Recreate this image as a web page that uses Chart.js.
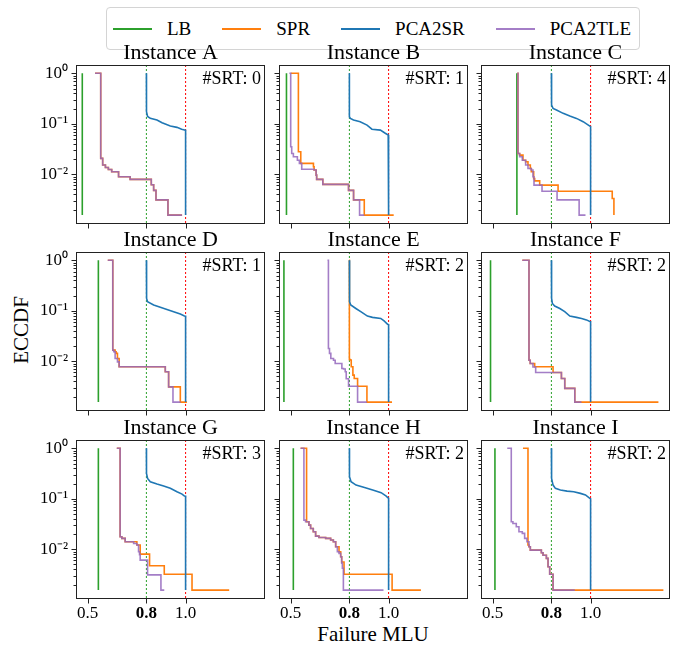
<!DOCTYPE html>
<html>
<head>
<meta charset="utf-8">
<script src="https://cdn.jsdelivr.net/npm/chart.js@4.4.1/dist/chart.umd.min.js"></script>
<style>
  body { margin: 0; background: #fff; font-family: "Liberation Serif", "Times New Roman", serif; }
  #wrap { position: relative; width: 673px; height: 645px; color: #000; }
  #wrap canvas { position: absolute; }
  #legend { position: absolute; left: 106px; top: 7px; width: 534px; height: 43px; box-sizing: border-box;
            border: 1px solid #d4d4d4; border-radius: 4px; background: #fff; display: flex; align-items: center;
            padding-left: 6px; font: 19px "Liberation Serif", "Times New Roman", serif; }
  #legend .item { display: flex; align-items: center; margin-right: 31px; }
  #legend .line { width: 39px; height: 2px; margin-right: 15px; }
  #ylab { position: absolute; left: 21px; top: 330px; font: 21px "Liberation Serif", "Times New Roman", serif;
          transform: translate(-50%, -50%) rotate(-90deg); white-space: nowrap; }
  #xlab { position: absolute; left: 373px; top: 624px; font: 21px/21px "Liberation Serif", "Times New Roman", serif;
          transform: translateX(-50%); white-space: nowrap; }
</style>
</head>
<body>
<div id="wrap">
  <div id="legend"></div>
  <div id="ylab">ECCDF</div>
  <div id="xlab">Failure MLU</div>
</div>
<script>
// panel labels and annotations
const instances = ["A", "B", "C", "D", "E", "F", "G", "H", "I"];
const srtCounts = [0, 1, 4, 1, 2, 2, 3, 2, 2];

// axis ticks
const xTicks = [0.5, 0.8, 1.0];
const yMajorTicks = [1, 0.1, 0.01];
const yTickLabels = ["10⁰", "10⁻¹", "10⁻²"];
const yMinorTicks = [0.9, 0.8, 0.7, 0.6, 0.5, 0.4, 0.3, 0.2,
                     0.09, 0.08, 0.07, 0.06, 0.05, 0.04, 0.03, 0.02,
                     0.009, 0.008, 0.007, 0.006, 0.005, 0.004, 0.003, 0.002];
// vertical reference lines (MLU 0.8 and 1.0)
const refLines = [0.8, 1.0];

// LB: constant value per instance, ECCDF spans 1 .. 1/n
const lbX = [0.473, 0.479, 0.624, 0.555, 0.466, 0.4895, 0.555, 0.514, 0.512];
const lbRange = [1, 0.00155];

// SPR (step curves, [MLU, ECCDF])
const sprA = [[0.538,1],[0.567,0.0206],[0.577,0.0152],[0.591,0.0136],[0.606,0.0124],[0.623,0.0112],[0.658,0.0089],[0.717,0.0079],[0.825,0.0062],[0.837,0.0048],[0.849,0.0031],[0.91,0.00155],[0.982,0.00155]];
const sprB = [[0.5006,1],[0.5398,0.028],[0.552,0.0164],[0.6166,0.0141],[0.62,0.0121],[0.6302,0.0096],[0.633,0.0079],[0.6644,0.0063],[0.7957,0.0048],[0.8213,0.0031],[0.8759,0.00155],[1.026,0.00155]];
const sprC = [[0.626,1],[0.6294,0.0258],[0.638,0.0239],[0.655,0.019],[0.6686,0.0177],[0.6806,0.0152],[0.6925,0.013],[0.6976,0.0112],[0.7096,0.0082],[0.7147,0.0074],[0.7403,0.0061],[0.8341,0.0046],[1.1104,0.0033],[1.119,0.00155]];
const sprD = [[0.603,1],[0.6285,0.0166],[0.6405,0.0154],[0.6456,0.0143],[0.6524,0.0113],[0.661,0.0078],[0.8964,0.0062],[0.9134,0.0031],[0.9731,0.00155],[1.007,0.00155]];
const sprE = [[0.799,1],[0.8,0.0108],[0.8042,0.0106],[0.8094,0.0078],[0.8179,0.0053],[0.8247,0.00455],[0.8418,0.0032],[0.8895,0.00155],[1.0175,0.00155]];
const sprF = [[0.6516,1],[0.6857,0.0105],[0.692,0.009],[0.7147,0.0078],[0.8085,0.006],[0.8512,0.00455],[0.8682,0.0029],[0.9194,0.00155],[1.346,0.00155]];
const sprG = [[0.649,1],[0.666,0.0177],[0.6746,0.0164],[0.6917,0.0141],[0.7514,0.0121],[0.7684,0.008],[0.8162,0.0047],[0.8912,0.0032],[1.0328,0.00155],[1.2224,0.00155]];
const sprH = [[0.551,1],[0.5816,0.035],[0.5935,0.030],[0.6021,0.0258],[0.6158,0.0222],[0.6277,0.0182],[0.6447,0.0171],[0.6789,0.0164],[0.7044,0.0152],[0.7181,0.0141],[0.73,0.0112],[0.7471,0.0089],[0.7556,0.0071],[0.7607,0.0056],[0.7727,0.0032],[1.0179,0.00155],[1.165,0.00155]];
const sprI = [[0.655,1],[0.6806,0.0121],[0.6857,0.0112],[0.6925,0.0096],[0.7488,0.0085],[0.7573,0.0076],[0.7744,0.0066],[0.7829,0.0045],[0.7914,0.0032],[0.8085,0.00155],[1.3714,0.00155]];

// PCA2SR
const srA = [[0.8,1],[0.8,0.2],[0.801,0.173],[0.806,0.14],[0.82,0.128],[0.854,0.119],[0.88,0.105],[0.922,0.09],[0.956,0.085],[0.98,0.078],[0.995,0.075],[1.0,0.074],[1.0,0.00155]];
const srB = [[0.8,1],[0.8,0.138],[0.805,0.128],[0.821,0.119],[0.855,0.110],[0.89,0.094],[0.915,0.078],[0.958,0.075],[0.983,0.065],[0.998,0.06],[1.0,0.06],[1.0,0.00155]];
const srC = [[0.8,1],[0.8,0.3],[0.802,0.235],[0.8085,0.202],[0.826,0.187],[0.86,0.161],[0.894,0.142],[0.928,0.128],[0.962,0.11],[0.996,0.09],[1.0,0.088],[1.0,0.00155]];
const srD = [[0.8,1],[0.8,0.2],[0.802,0.176],[0.806,0.151],[0.837,0.13],[0.871,0.117],[0.905,0.106],[0.939,0.096],[0.973,0.086],[0.994,0.079],[1.0,0.078],[1.0,0.00155]];
const srE = [[0.8,1],[0.8,0.2],[0.802,0.151],[0.807,0.13],[0.833,0.111],[0.858,0.096],[0.892,0.0785],[0.918,0.074],[0.96,0.0705],[0.977,0.063],[0.995,0.054],[1.0,0.053],[1.0,0.00155]];
const srF = [[0.8,1],[0.8,0.2],[0.802,0.176],[0.805,0.14],[0.817,0.124],[0.843,0.111],[0.868,0.096],[0.894,0.0785],[0.928,0.074],[0.954,0.0705],[0.979,0.066],[0.996,0.0615],[1.0,0.061],[1.0,0.00155]];
const srG = [[0.8,1],[0.8,0.4],[0.801,0.318],[0.806,0.253],[0.82,0.218],[0.854,0.196],[0.888,0.179],[0.922,0.161],[0.956,0.138],[0.982,0.124],[0.994,0.113],[1.0,0.112],[1.0,0.00155]];
const srH = [[0.8,1],[0.8,0.35],[0.801,0.273],[0.8085,0.218],[0.834,0.187],[0.877,0.168],[0.919,0.149],[0.962,0.132],[0.988,0.113],[1.0,0.102],[1.0,0.00155]];
const srI = [[0.8,1],[0.8,0.3],[0.802,0.253],[0.8085,0.187],[0.8205,0.161],[0.846,0.149],[0.88,0.142],[0.914,0.138],[0.948,0.128],[0.974,0.119],[0.996,0.102],[1.0,0.1],[1.0,0.00155]];

// PCA2TLE
const tleA = [[0.538,1],[0.567,0.0206],[0.577,0.0152],[0.591,0.0136],[0.606,0.0124],[0.623,0.0112],[0.658,0.0089],[0.717,0.0079],[0.825,0.0062],[0.837,0.0048],[0.849,0.0031],[0.91,0.00155],[0.982,0.00155]];
const tleB = [[0.4938,1],[0.5006,0.035],[0.5057,0.0258],[0.5142,0.0222],[0.5347,0.019],[0.545,0.0164],[0.5569,0.0126],[0.62,0.0121],[0.6302,0.0096],[0.633,0.0079],[0.6644,0.0063],[0.7957,0.0048],[0.8213,0.0031],[0.852,0.00155],[0.876,0.00155]];
const tleC = [[0.626,1],[0.6294,0.0258],[0.638,0.0222],[0.6516,0.019],[0.6686,0.0152],[0.6806,0.013],[0.6976,0.0121],[0.7061,0.0089],[0.7113,0.0061],[0.7522,0.0046],[0.829,0.0031],[0.9415,0.00155],[0.974,0.00155]];
const tleD = [[0.603,1],[0.6285,0.0166],[0.6335,0.0154],[0.6405,0.0113],[0.6524,0.0097],[0.661,0.0078],[0.8964,0.0062],[0.9134,0.0031],[0.9356,0.00155],[0.975,0.00155]];
const tleE = [[0.688,1],[0.693,0.0179],[0.6985,0.0143],[0.7053,0.0113],[0.719,0.0105],[0.7275,0.009],[0.7616,0.0072],[0.7701,0.007],[0.7787,0.0062],[0.7838,0.0045],[0.7957,0.0032],[0.8418,0.00155],[0.8895,0.00155]];
const tleF = [[0.6516,1],[0.6857,0.0105],[0.692,0.009],[0.706,0.0077],[0.7198,0.006],[0.8512,0.00455],[0.8682,0.0029],[0.9194,0.00155],[0.9535,0.00155]];
const tleG = [[0.649,1],[0.666,0.0177],[0.6746,0.0164],[0.6917,0.0141],[0.7349,0.013],[0.7514,0.0121],[0.76,0.0089],[0.765,0.0078],[0.7684,0.0061],[0.806,0.0031],[0.8742,0.00155],[0.8912,0.00155]];
const tleH = [[0.551,1],[0.568,0.0378],[0.5765,0.035],[0.5935,0.030],[0.6021,0.0258],[0.6158,0.0222],[0.6277,0.0182],[0.6447,0.0171],[0.6789,0.0164],[0.7044,0.0152],[0.7181,0.0141],[0.73,0.0112],[0.7386,0.0089],[0.7471,0.0083],[0.7556,0.0071],[0.7607,0.0053],[0.7642,0.0042],[0.7693,0.00155],[0.974,0.00155]];
const tleI = [[0.5748,1],[0.5953,0.035],[0.6038,0.0324],[0.6209,0.0279],[0.6345,0.0222],[0.6516,0.0206],[0.6635,0.0164],[0.6754,0.0141],[0.6857,0.0112],[0.6925,0.0096],[0.7488,0.0085],[0.7573,0.0076],[0.7744,0.0066],[0.7829,0.0045],[0.7914,0.0032],[0.8085,0.00155],[0.9194,0.00155]];

const sprData = [sprA, sprB, sprC, sprD, sprE, sprF, sprG, sprH, sprI];
const srData = [srA, srB, srC, srD, srE, srF, srG, srH, srI];
const tleData = [tleA, tleB, tleC, tleD, tleE, tleF, tleG, tleH, tleI];

const seriesNames = ["LB", "SPR", "PCA2SR", "PCA2TLE"];
const seriesColors = ["#2ca02c", "#ff7f0e", "#1f77b4", "rgba(148,103,189,0.85)"];
const refColors = ["#2ca02c", "#ff0000"];

const FONT = "'Liberation Serif', 'Times New Roman', serif";
const X_MIN = 0.446, X_MAX = 1.4;
const Y_MIN = Math.pow(10, -2.966), Y_MAX = Math.pow(10, 0.145);

// layout of the 3x3 grid (page px)
const colLeft = [77, 280, 482];
const rowTop = [66, 253, 441];
const PW = 187, PH = 157;
const PAD_L = 45, PAD_R = 8, PAD_T = 30, PAD_B = 30;

// legend
const legend = document.getElementById("legend");
seriesNames.forEach((name, i) => {
    const item = document.createElement("div");
    item.className = "item";
    item.innerHTML = '<span class="line" style="background:' + seriesColors[i] + '"></span><span>' + name + "</span>";
    legend.appendChild(item);
});

// frame, tick marks and the #SRT note
const panelDecor = {
    id: "panelDecor",
    afterDatasetsDraw(chart, args, opts) {
        const { ctx, chartArea: a, scales: { x, y } } = chart;
        ctx.save();
        ctx.setLineDash([]);
        ctx.strokeStyle = "#222";
        ctx.lineWidth = 1;
        const l = Math.round(a.left) - 0.5, t = Math.round(a.top) - 0.5;
        const r = Math.round(a.right) + 0.5, b = Math.round(a.bottom) + 0.5;
        ctx.strokeRect(l, t, r - l, b - t);
        ctx.beginPath();
        xTicks.forEach(v => {
            const px = Math.round(x.getPixelForValue(v)) + 0.5;
            ctx.moveTo(px, b);
            ctx.lineTo(px, b + 5);
        });
        yMajorTicks.forEach(v => {
            const py = Math.round(y.getPixelForValue(v)) + 0.5;
            ctx.moveTo(l, py);
            ctx.lineTo(l - 5, py);
        });
        yMinorTicks.forEach(v => {
            const py = Math.round(y.getPixelForValue(v)) + 0.5;
            ctx.moveTo(l, py);
            ctx.lineTo(l - 3, py);
        });
        ctx.stroke();
        ctx.fillStyle = "#000";
        ctx.font = "18px " + FONT;
        ctx.textAlign = "right";
        ctx.textBaseline = "alphabetic";
        ctx.fillText("#SRT: " + opts.srt, a.right - 3, a.top + 18);
        ctx.restore();
    }
};

const wrap = document.getElementById("wrap");

instances.forEach((name, k) => {
    const row = Math.floor(k / 3), col = k % 3;
    const canvas = document.createElement("canvas");
    canvas.width = PAD_L + PW + PAD_R;
    canvas.height = PAD_T + PH + PAD_B;
    canvas.style.left = (colLeft[col] - PAD_L) + "px";
    canvas.style.top = (rowTop[row] - PAD_T) + "px";
    wrap.appendChild(canvas);

    const lbLine = lbRange.map(v => [lbX[k], v]);
    // reference lines span the whole y axis
    const refSets = refLines.map((v, i) => ({
        label: "ref" + i,
        data: [[v, Y_MIN], [v, Y_MAX]],
        borderColor: refColors[i],
        borderWidth: 1,
        borderDash: [2, 2],
        pointRadius: 0,
        order: 10
    }));

    new Chart(canvas.getContext("2d"), {
        type: "line",
        data: {
            datasets: [
                ...refSets,
                { label: "LB", data: lbLine, borderColor: seriesColors[0], borderWidth: 1.6, pointRadius: 0, order: 4 },
                { label: "SPR", data: sprData[k], borderColor: seriesColors[1], borderWidth: 1.6, pointRadius: 0, stepped: "before", order: 3 },
                { label: "PCA2SR", data: srData[k], borderColor: seriesColors[2], borderWidth: 1.6, pointRadius: 0, order: 2 },
                { label: "PCA2TLE", data: tleData[k], borderColor: seriesColors[3], borderWidth: 1.6, pointRadius: 0, stepped: "before", order: 1 }
            ]
        },
        options: {
            responsive: false,
            animation: false,
            events: [],
            layout: { padding: { top: PAD_T - 26.4, right: PAD_R, left: 0, bottom: 0 } },
            plugins: {
                legend: { display: false },
                tooltip: { enabled: false },
                title: {
                    display: true,
                    fullSize: false,
                    text: "Instance " + name,
                    color: "#000",
                    padding: 0,
                    font: { family: FONT, size: 22, weight: "normal", lineHeight: 1.2 }
                },
                panelDecor: { srt: srtCounts[k] }
            },
            scales: {
                x: {
                    type: "linear",
                    min: X_MIN,
                    max: X_MAX,
                    afterBuildTicks: s => { s.ticks = xTicks.map(v => ({ value: v })); },
                    afterFit: s => { s.height = PAD_B; },
                    grid: { display: false, drawTicks: false },
                    border: { display: false },
                    ticks: {
                        display: row === 2,
                        padding: 5,
                        color: "#000",
                        maxRotation: 0,
                        autoSkip: false,
                        font: c => ({ family: FONT, size: 17, weight: (c.tick && c.tick.value === 0.8) ? "bold" : "normal" }),
                        callback: v => v.toFixed(1)
                    }
                },
                y: {
                    type: "logarithmic",
                    min: Y_MIN,
                    max: Y_MAX,
                    afterBuildTicks: s => { s.ticks = yMajorTicks.map(v => ({ value: v })); },
                    afterFit: s => { s.width = PAD_L; },
                    grid: { display: false, drawTicks: false },
                    border: { display: false },
                    ticks: {
                        display: col === 0,
                        padding: 9,
                        color: "#000",
                        autoSkip: false,
                        font: { family: FONT, size: 17 },
                        callback: (v, i) => yTickLabels[i]
                    }
                }
            }
        },
        plugins: [panelDecor]
    });
});
</script>
</body>
</html>
